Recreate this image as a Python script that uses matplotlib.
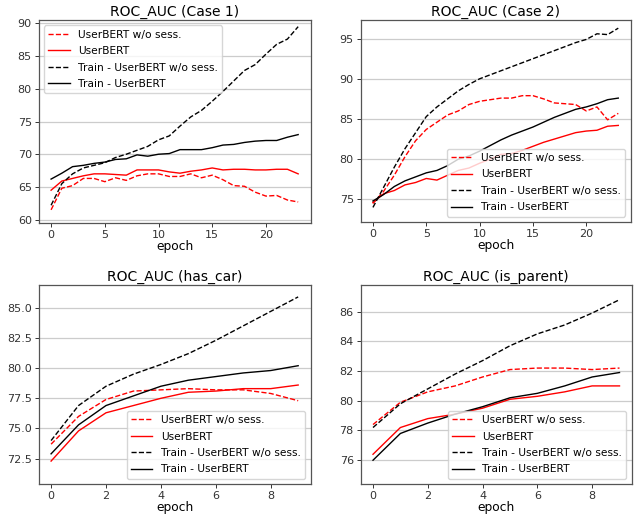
import matplotlib
matplotlib.use("Agg")
import matplotlib.pyplot as plt
import numpy as np

# ---- Case 1 ----
case1_wo = [61.5, 64.8, 65.2, 66.3, 66.3, 65.8, 66.4, 66.0, 66.7, 67.0, 67.0, 66.6,
            66.6, 67.0, 66.4, 66.8, 66.1, 65.2, 65.1, 64.2, 63.6, 63.7, 63.0, 62.7]
case1_ub = [64.5, 65.9, 66.3, 66.7, 67.0, 67.0, 66.9, 66.8, 67.6, 67.6, 67.6, 67.3,
            67.1, 67.4, 67.6, 67.9, 67.6, 67.7, 67.7, 67.6, 67.6, 67.7, 67.7, 67.0]
case1_train_wo = [62.2, 65.5, 67.0, 67.9, 68.3, 68.7, 69.5, 70.0, 70.6, 71.2, 72.2, 72.8,
                  74.3, 75.7, 76.7, 78.1, 79.6, 81.2, 82.8, 83.7, 85.3, 86.8, 87.6, 89.5]
case1_train_ub = [66.2, 67.1, 68.1, 68.3, 68.6, 68.8, 69.2, 69.3, 69.9, 69.7, 70.0, 70.1,
                  70.7, 70.7, 70.7, 71.0, 71.4, 71.5, 71.8, 72.0, 72.1, 72.1, 72.6, 73.0]

# ---- Case 2 ----
case2_wo = [74.5, 76.0, 78.0, 80.3, 82.3, 83.7, 84.6, 85.5, 86.0, 86.8, 87.2, 87.4,
            87.6, 87.6, 87.9, 87.9, 87.5, 87.0, 86.9, 86.8, 86.0, 86.5, 84.9, 85.7]
case2_ub = [74.6, 75.7, 76.1, 76.8, 77.1, 77.6, 77.4, 78.0, 78.6, 78.9, 79.5, 80.0,
            80.6, 80.7, 81.1, 81.6, 82.1, 82.5, 82.9, 83.3, 83.5, 83.6, 84.1, 84.2]
case2_train_wo = [74.0, 76.5, 79.0, 81.3, 83.3, 85.3, 86.5, 87.5, 88.5, 89.3, 90.0, 90.5,
                  91.0, 91.5, 92.0, 92.5, 93.0, 93.5, 94.0, 94.5, 94.9, 95.6, 95.5, 96.3]
case2_train_ub = [74.8, 75.6, 76.6, 77.3, 77.8, 78.3, 78.6, 79.2, 80.0, 80.4, 81.0, 81.7,
                  82.4, 83.0, 83.5, 84.0, 84.6, 85.2, 85.7, 86.2, 86.5, 86.9, 87.4, 87.6]

# ---- has_car ----
car_wo = [73.7, 76.0, 77.4, 78.1, 78.2, 78.3, 78.2, 78.2, 77.9, 77.3]
car_ub = [72.3, 74.8, 76.3, 76.9, 77.5, 78.0, 78.1, 78.3, 78.3, 78.6]
car_train_wo = [74.0, 76.9, 78.5, 79.5, 80.3, 81.2, 82.3, 83.5, 84.7, 85.9]
car_train_ub = [72.9, 75.3, 76.9, 77.7, 78.5, 79.0, 79.3, 79.6, 79.8, 80.2]

# ---- is_parent ----
par_wo = [78.4, 79.9, 80.6, 81.0, 81.6, 82.1, 82.2, 82.2, 82.1, 82.2]
par_ub = [76.4, 78.2, 78.8, 79.1, 79.5, 80.1, 80.3, 80.6, 81.0, 81.0]
par_train_wo = [78.2, 79.8, 80.8, 81.8, 82.7, 83.7, 84.5, 85.1, 85.9, 86.8]
par_train_ub = [76.0, 77.8, 78.5, 79.1, 79.6, 80.2, 80.5, 81.0, 81.6, 81.9]

labels = ['UserBERT w/o sess.', 'UserBERT', 'Train - UserBERT w/o sess.', 'Train - UserBERT']

panels = [
    ('ROC_AUC (Case 1)', [case1_wo, case1_ub, case1_train_wo, case1_train_ub], 'upper left', [0.061, 0.568, 0.428, 0.393]),
    ('ROC_AUC (Case 2)', [case2_wo, case2_ub, case2_train_wo, case2_train_ub], 'lower right', [0.568, 0.570, 0.425, 0.391]),
    ('ROC_AUC (has_car)', [car_wo, car_ub, car_train_wo, car_train_ub], 'lower right', [0.061, 0.062, 0.428, 0.386]),
    ('ROC_AUC (is_parent)', [par_wo, par_ub, par_train_wo, par_train_ub], 'lower right', [0.568, 0.062, 0.427, 0.386]),
]

fig = plt.figure(figsize=(6.35, 5.16), dpi=100)

for title, series, loc, rect in panels:
    ax = fig.add_axes(rect)
    x = np.arange(len(series[0]))
    ax.plot(x, series[0], color='red', linestyle='--', linewidth=1.0, label=labels[0])
    ax.plot(x, series[1], color='red', linestyle='-', linewidth=1.0, label=labels[1])
    ax.plot(x, series[2], color='black', linestyle='--', linewidth=1.0, label=labels[2])
    ax.plot(x, series[3], color='black', linestyle='-', linewidth=1.0, label=labels[3])
    ax.set_title(title, fontsize=10, pad=3)
    ax.set_xlabel('epoch', fontsize=8.8, labelpad=0)
    ax.yaxis.grid(True, color='#cccccc', linewidth=0.9)
    ax.set_axisbelow(True)
    for s in ax.spines.values():
        s.set_color('#555555')
        s.set_linewidth(0.9)
    ax.tick_params(labelsize=8, colors='#333333', length=3, width=0.7, pad=2)
    ax.legend(loc=loc, fontsize=7.7, framealpha=0.8, borderaxespad=0.5,
              labelspacing=0.6, borderpad=0.4)

axs = fig.axes
axs[0].set_ylim(59.5, 90.5)
axs[0].set_yticks([60, 65, 70, 75, 80, 85, 90])
axs[1].set_ylim(72.2, 97.3)
axs[1].set_yticks([75, 80, 85, 90, 95])
axs[2].set_ylim(70.4, 86.9)
axs[2].set_yticks([72.5, 75.0, 77.5, 80.0, 82.5, 85.0])
axs[3].set_ylim(74.4, 87.8)
axs[3].set_yticks([76, 78, 80, 82, 84, 86])
for ax in axs[:2]:
    ax.set_xticks([0, 5, 10, 15, 20])
for ax in axs[2:]:
    ax.set_xticks([0, 2, 4, 6, 8])

fig.savefig('out.png', dpi=100)
